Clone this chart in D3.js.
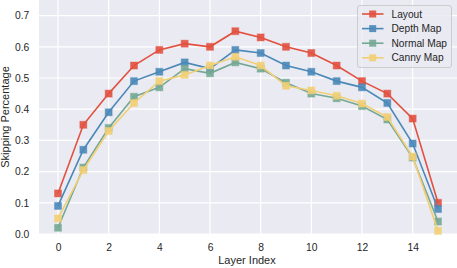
<!DOCTYPE html>
<html>
<head>
<meta charset="utf-8">
<script src="https://cdn.jsdelivr.net/npm/d3@7"></script>
<style>
  body { margin: 0; background: #fff; }
  text { font-family: "Liberation Sans", Arial, sans-serif; }
</style>
</head>
<body>
<svg id="chart" width="457" height="268"></svg>
<script>
// data
var layers = d3.range(0, 16);
var layout = [0.13, 0.35, 0.45, 0.54, 0.59, 0.61, 0.60, 0.65, 0.63, 0.60, 0.58, 0.54, 0.49, 0.45, 0.37, 0.10];
var depthMap = [0.09, 0.27, 0.39, 0.49, 0.52, 0.55, 0.53, 0.59, 0.58, 0.54, 0.52, 0.49, 0.47, 0.42, 0.29, 0.08];
var normalMap = [0.02, 0.213, 0.34, 0.44, 0.47, 0.53, 0.515, 0.55, 0.53, 0.485, 0.45, 0.435, 0.41, 0.367, 0.245, 0.04];
var cannyMap = [0.05, 0.205, 0.33, 0.42, 0.49, 0.51, 0.54, 0.568, 0.54, 0.475, 0.46, 0.443, 0.418, 0.375, 0.248, 0.01];
var xTicks = [0, 2, 4, 6, 8, 10, 12, 14];
var yTicks = [0.0, 0.1, 0.2, 0.3, 0.4, 0.5, 0.6, 0.7];

var series = [
    { name: "Layout", values: layout, color: "#e2503f" },
    { name: "Depth Map", values: depthMap, color: "#4a88b8" },
    { name: "Normal Map", values: normalMap, color: "#74a894" },
    { name: "Canny Map", values: cannyMap, color: "#f2cf74" }
];

var svg = d3.select("#chart");
var margin = { left: 39, right: 0, top: 0, bottom: 34 };
var W = 457, H = 268;

var x = d3.scaleLinear().domain([-0.75, 15.75]).range([margin.left, W - margin.right]);
var y = d3.scaleLinear().domain([0, 0.75]).range([H - margin.bottom, margin.top]);

// background
svg.append("rect")
    .attr("x", margin.left).attr("y", margin.top)
    .attr("width", W - margin.left - margin.right)
    .attr("height", H - margin.top - margin.bottom)
    .attr("fill", "#eaeaf2");

// grid
var grid = svg.append("g").attr("stroke", "#fff").attr("stroke-width", 1.2);
grid.selectAll(".gx").data(xTicks).join("line")
    .attr("x1", d => x(d)).attr("x2", d => x(d))
    .attr("y1", y.range()[0]).attr("y2", y.range()[1]);
grid.selectAll(".gy").data(yTicks).join("line")
    .attr("x1", x.range()[0]).attr("x2", x.range()[1])
    .attr("y1", d => y(d)).attr("y2", d => y(d));

// axes (no tick marks, seaborn darkgrid style)
var xAxis = svg.append("g")
    .attr("transform", `translate(0,${H - margin.bottom})`)
    .call(d3.axisBottom(x).tickValues(xTicks).tickSize(0).tickPadding(9.5).tickFormat(d3.format("d")));
var yAxis = svg.append("g")
    .attr("transform", `translate(${margin.left},0)`)
    .call(d3.axisLeft(y).tickValues(yTicks).tickSize(0).tickPadding(9.7).tickFormat(d3.format(".1f")));
[xAxis, yAxis].forEach(a => {
    a.select(".domain").remove();
    a.selectAll("text")
        .attr("font-size", 10.3)
        .attr("fill", "#262626");
});

// axis labels
svg.append("text")
    .attr("x", 247).attr("y", 264.3)
    .attr("text-anchor", "middle")
    .attr("font-size", 11).attr("fill", "#262626")
    .text("Layer Index");
svg.append("text")
    .attr("transform", "translate(9.3,117) rotate(-90)")
    .attr("text-anchor", "middle")
    .attr("font-size", 11).attr("fill", "#262626")
    .text("Skipping Percentage");

// lines + markers
var line = d3.line().x((d, i) => x(layers[i])).y(d => y(d));
var ms = 7;
series.forEach(s => {
    var g = svg.append("g");
    g.append("path")
        .attr("d", line(s.values))
        .attr("fill", "none")
        .attr("stroke", s.color)
        .attr("stroke-width", 1.6);
    g.selectAll("rect").data(s.values).join("rect")
        .attr("x", (d, i) => x(layers[i]) - ms / 2)
        .attr("y", d => y(d) - ms / 2)
        .attr("width", ms).attr("height", ms)
        .attr("fill", s.color)
        .attr("fill-opacity", 0.9)
        .attr("stroke", s.color)
        .attr("stroke-opacity", 0.4)
        .attr("stroke-width", 1);
});

// legend
var lg = svg.append("g").attr("transform", "translate(357.5,5.5)");
lg.append("rect")
    .attr("width", 94).attr("height", 62)
    .attr("rx", 2.5)
    .attr("fill", "#eaeaf2").attr("fill-opacity", 0.8)
    .attr("stroke", "#cccccc").attr("stroke-width", 1);
series.forEach((s, i) => {
    var row = lg.append("g").attr("transform", `translate(0,${8.5 + i * 14.6})`);
    row.append("line")
        .attr("x1", 4.5).attr("x2", 26)
        .attr("stroke", s.color).attr("stroke-width", 1.6);
    row.append("rect")
        .attr("x", 15.2 - ms / 2).attr("y", -ms / 2)
        .attr("width", ms).attr("height", ms)
        .attr("fill", s.color).attr("fill-opacity", 0.9);
    row.append("text")
        .attr("x", 34).attr("y", 3.6)
        .attr("font-size", 10.2).attr("fill", "#262626")
        .text(s.name);
});
</script>
</body>
</html>
